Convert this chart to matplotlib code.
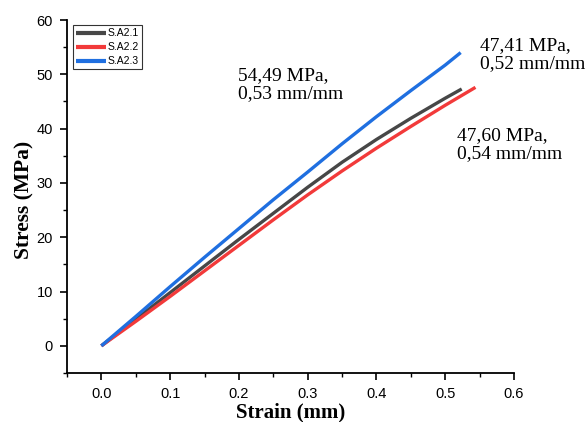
import matplotlib
matplotlib.use("Agg")
import matplotlib.pyplot as plt
from matplotlib.ticker import MultipleLocator, FormatStrFormatter

# Data
strain_a1 = [0.0, 0.05, 0.10, 0.15, 0.20, 0.25, 0.30, 0.35, 0.40, 0.45, 0.50, 0.524]
stress_a1 = [0.0, 4.9, 9.8, 14.7, 19.6, 24.4, 29.2, 33.8, 38.0, 41.9, 45.6, 47.3]

strain_a2 = [0.0, 0.05, 0.10, 0.15, 0.20, 0.25, 0.30, 0.35, 0.40, 0.45, 0.50, 0.544]
stress_a2 = [0.0, 4.5, 9.1, 13.8, 18.5, 23.2, 27.8, 32.2, 36.4, 40.4, 44.3, 47.6]

strain_a3 = [0.0, 0.05, 0.10, 0.15, 0.20, 0.25, 0.30, 0.35, 0.40, 0.45, 0.50, 0.5225]
stress_a3 = [0.0, 5.4, 10.9, 16.3, 21.6, 26.9, 32.0, 37.2, 42.2, 47.0, 51.7, 54.0]

labels = ["S.A2.1", "S.A2.2", "S.A2.3"]
colors = ["#474747", "#f23a3a", "#1f6fe0"]

annotations = [
    ("54,49 MPa,\n0,53 mm/mm", 0.198, 51.4),
    ("47,41 MPa,\n0,52 mm/mm", 0.551, 56.9),
    ("47,60 MPa,\n0,54 mm/mm", 0.517, 40.3),
]

fig = plt.figure(figsize=(5.87, 4.22), dpi=100)
ax = fig.add_axes([0.1141, 0.1161, 0.7615, 0.8365])

for xs, ys, lab, c in zip([strain_a1, strain_a2, strain_a3],
                          [stress_a1, stress_a2, stress_a3], labels, colors):
    ax.plot(xs, ys, color=c, lw=2.4, label=lab, solid_capstyle="butt",
            solid_joinstyle="round")

ax.set_xlim(-0.05, 0.6)
ax.set_ylim(-5, 60)
ax.xaxis.set_major_locator(MultipleLocator(0.1))
ax.xaxis.set_minor_locator(MultipleLocator(0.05))
ax.yaxis.set_major_locator(MultipleLocator(10))
ax.yaxis.set_minor_locator(MultipleLocator(5))
ax.xaxis.set_major_formatter(FormatStrFormatter("%.1f"))

for s in ["top", "right"]:
    ax.spines[s].set_visible(False)
for s in ["left", "bottom"]:
    ax.spines[s].set_linewidth(1.3)

ax.tick_params(which="major", direction="out", length=5, width=1.2,
               labelsize=10.5, pad=5)
ax.tick_params(which="minor", direction="out", length=3, width=1.0)
for lbl in ax.get_xticklabels() + ax.get_yticklabels():
    lbl.set_fontfamily("Liberation Sans")

ax.set_xlabel("Strain (mm)", fontfamily="Liberation Serif", fontweight="bold",
              fontsize=15)
ax.set_ylabel("Stress (MPa)", fontfamily="Liberation Serif", fontweight="bold",
              fontsize=15.5)
ax.xaxis.set_label_coords(0.5, -0.083)
ax.yaxis.set_label_coords(-0.073, 0.49)

for txt, x, y in annotations:
    ax.text(x, y, txt, fontfamily="Liberation Serif", fontsize=14,
            va="top", ha="left", linespacing=1.12, clip_on=False)

leg = ax.legend(loc="upper left", bbox_to_anchor=(0.013, 0.985),
                prop={"family": "Liberation Sans", "size": 7.5},
                frameon=True, fancybox=False, edgecolor="black",
                borderpad=0.3, handlelength=2.9, handletextpad=0.15,
                labelspacing=0.38, borderaxespad=0.0)
leg.get_frame().set_linewidth(0.8)
for h in leg.get_lines():
    h.set_linewidth(3)

fig.savefig("out.png", dpi=100)
